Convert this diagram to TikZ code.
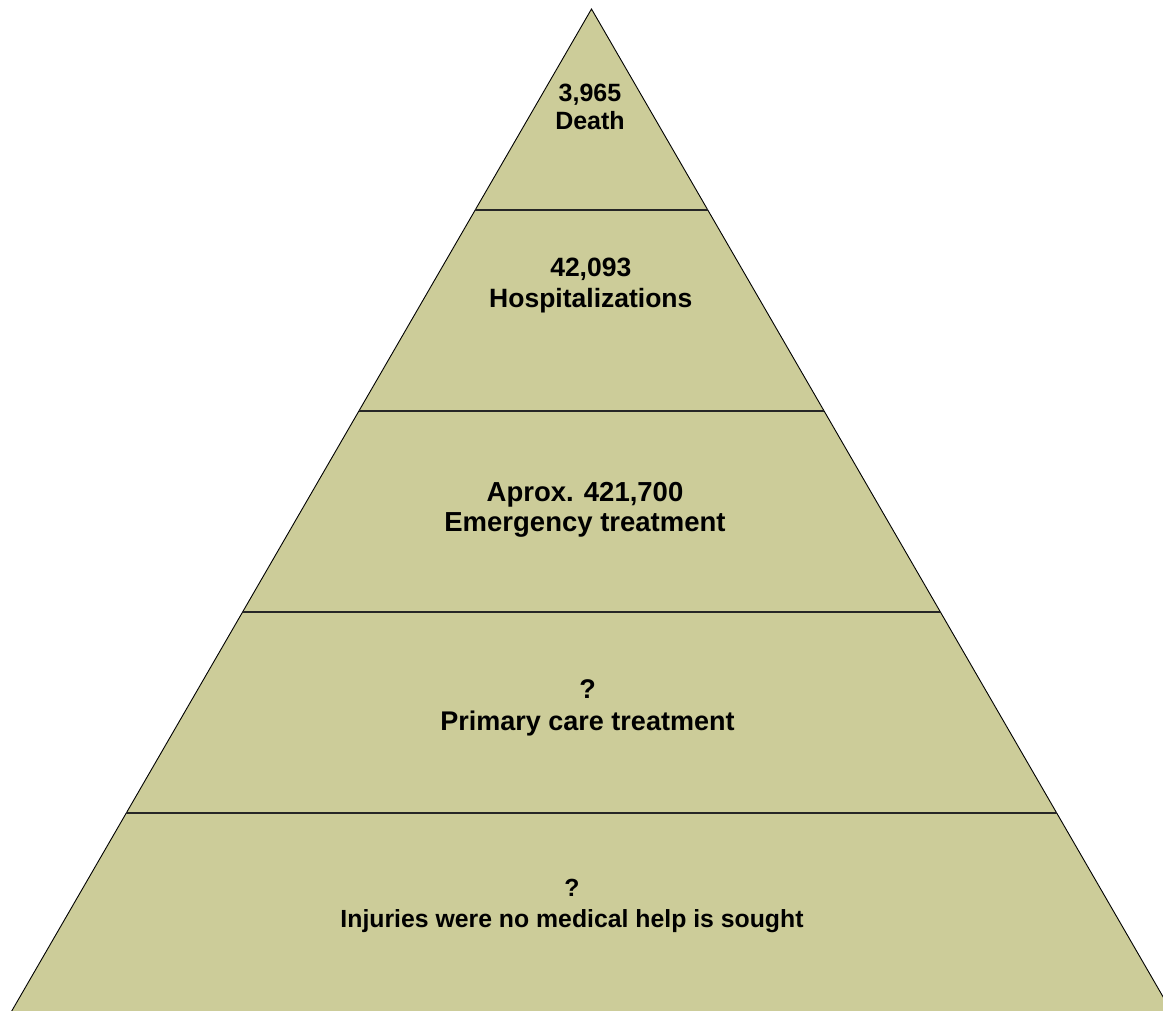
\documentclass[tikz,border=0pt]{standalone}
\usepackage{fontspec}
\setmainfont{Liberation Sans}
\usetikzlibrary{calc}
\definecolor{pyrfill}{RGB}{204,204,153}
\tikzset{
  lbl/.style={font=\bfseries\fontsize{#1}{#1}\selectfont, anchor=base, inner sep=0pt, text=black},
  divider/.style={draw=black!85, line width=1.6pt},
  outline/.style={draw=black, line width=0.9pt, fill=pyrfill}
}
\begin{document}
\begin{tikzpicture}[x=1pt,y=-1pt]
\useasboundingbox (0,0) rectangle (1163,1011);
\clip (0,0) rectangle (1163,1011);
\coordinate (A) at (591.5,9);
\coordinate (L) at (10,1014);
\coordinate (R) at (1173,1014);
\draw[outline] (A) -- (L) -- (R) -- cycle;
\foreach \t/\n in {0.2/a,0.4/b,0.6/c,0.8/d}{
  \coordinate (l\n) at ($(A)!\t!(L)$);
  \coordinate (r\n) at ($(A)!\t!(R)$);
  \draw[divider] (l\n) -- (r\n);
}
\node[lbl=25] (t1a) at (590,101.7) {3,965};
\node[lbl=25] (t1b) at (590,130) {Death};
\node[lbl=26.5] (t2a) at (590.8,276.7) {42,093};
\node[lbl=26.5] (t2b) at (590.8,307.7) {Hospitalizations};
\node[lbl=27.5] (t3a) at (585,501.7) {Aprox. 421,700};
\node[lbl=27.5] (t3b) at (585,531.7) {Emergency treatment};
\node[lbl=27] (t4a) at (587.5,698.3) {?};
\node[lbl=27] (t4b) at (587.5,730) {Primary care treatment};
\node[lbl=24.8] (t5a) at (572,896) {?};
\node[lbl=24.8] (t5b) at (572,927) {Injuries were no medical help is sought};
\end{tikzpicture}
\end{document}
